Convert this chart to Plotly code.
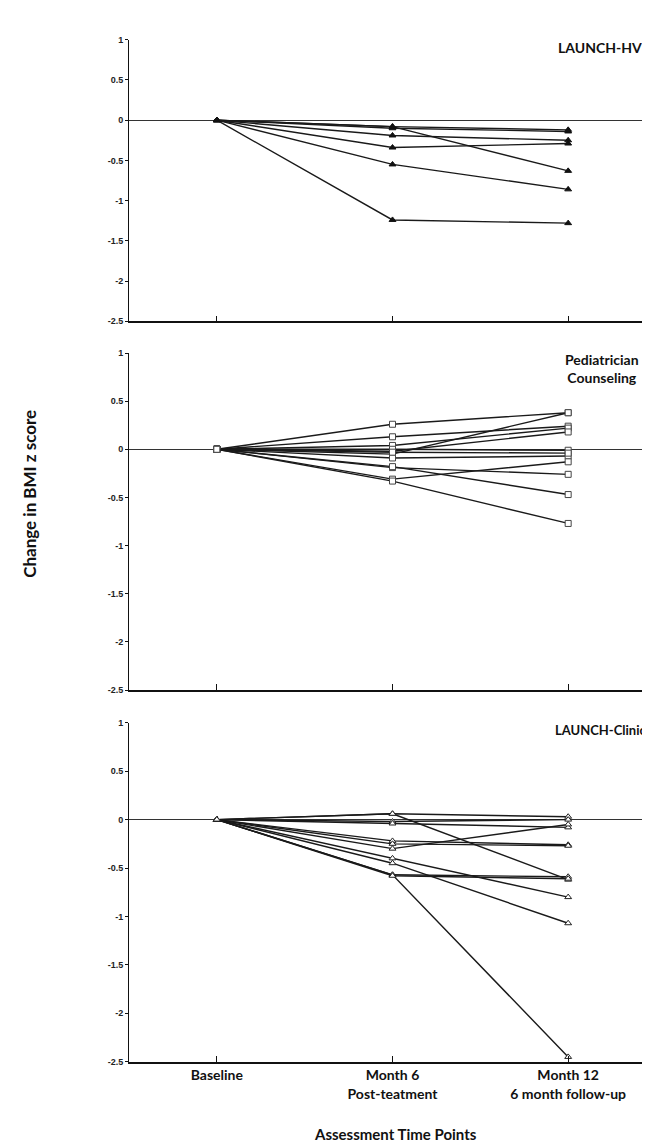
import plotly.graph_objects as go

# ---------------- data ----------------
timepoints = [0, 1, 2]
tick_labels = ["Baseline", "Month 6<br>Post-teatment", "Month 12<br>6 month follow-up"]
ytick_vals = [1, 0.5, 0, -0.5, -1, -1.5, -2, -2.5]
ytick_text = ["1", "0.5", "0", "-0.5", "-1", "-1.5", "-2", "-2.5"]

panel_titles = ["LAUNCH-HV", "Pediatrician<br>Counseling", "LAUNCH-Clinic"]

# change in BMI z score (baseline = 0 for every child)
hv_month6 = [-0.08, -0.10, -0.08, -0.19, -0.34, -0.55, -1.24]
hv_month12 = [-0.12, -0.14, -0.63, -0.25, -0.29, -0.86, -1.28]

pc_month6 = [0.26, 0.13, 0.04, -0.05, -0.02, 0.00, -0.09, -0.03, -0.31, -0.19, -0.18, -0.33]
pc_month12 = [0.38, 0.24, 0.22, 0.38, 0.18, -0.01, -0.07, -0.04, -0.13, -0.26, -0.47, -0.77]

cl_month6 = [0.06, 0.06, -0.02, -0.04, -0.22, -0.25, -0.30, -0.40, -0.45, -0.57, -0.57, -0.58]
cl_month12 = [0.03, -0.62, 0.00, -0.08, -0.26, -0.27, -0.05, -0.80, -1.07, -0.59, -2.45, -0.61]

# ---------------- layout geometry (pixels) ----------------
W, H = 650, 1145
x_left, x_right = 121, 648
panels_px = [(27, 311), (343, 683), (716, 1058)]

def ydom(top, bottom):
    return [1 - bottom / H, 1 - top / H]

fig = go.Figure()

styles = [
    dict(symbol="triangle-up", color="#111111", size=6, line=dict(color="#111111", width=1)),
    dict(symbol="square", color="white", size=6, line=dict(color="#444444", width=1)),
    dict(symbol="triangle-up", color="white", size=6, line=dict(color="#222222", width=1)),
]
datasets = [(hv_month6, hv_month12), (pc_month6, pc_month12), (cl_month6, cl_month12)]

for p, (m6, m12) in enumerate(datasets):
    ax = "" if p == 0 else str(p + 1)
    for a, b in zip(m6, m12):
        fig.add_trace(go.Scatter(
            x=timepoints, y=[0, a, b], mode="lines+markers",
            line=dict(color="#1a1a1a", width=1.4),
            marker=styles[p], showlegend=False, hoverinfo="skip",
            xaxis="x" + ax, yaxis="y" + ax,
        ))

xdom = [x_left / W, x_right / W]
layout = dict(
    width=W, height=H, margin=dict(l=0, r=0, t=0, b=0),
    paper_bgcolor="white", plot_bgcolor="white", showlegend=False,
)
for p, (top, bottom) in enumerate(panels_px):
    ax = "" if p == 0 else str(p + 1)
    layout["xaxis" + ax] = dict(
        domain=xdom, range=[-0.5, 2.5], anchor="y" + ax,
        showgrid=False, zeroline=False, showline=True, linecolor="#111111", linewidth=1.5,
        ticks="inside", ticklen=6, tickcolor="#111111", tickwidth=1,
        tickvals=timepoints, ticktext=tick_labels if p == 2 else ["", "", ""],
        showticklabels=(p == 2),
        tickfont=dict(family="Lato", size=14, color="#111111", weight="bold"),
    )
    layout["yaxis" + ax] = dict(
        domain=ydom(top, bottom), range=[-2.5, 1], anchor="x" + ax,
        showgrid=False, zeroline=True, zerolinecolor="#333333", zerolinewidth=1.3,
        showline=True, linecolor="#111111", linewidth=1,
        ticks="outside", ticklen=3, tickcolor="#111111",
        tickvals=ytick_vals, ticktext=ytick_text,
        tickfont=dict(family="Liberation Sans", size=9, color="#222222", weight="bold"),
    )
fig.update_layout(**layout)

annotations = [
    dict(text=panel_titles[0], x=636 / W, y=1 - 35 / H, xanchor="right", size=14),
    dict(text=panel_titles[1], x=594 / W, y=1 - 359 / H, xanchor="center", size=14),
    dict(text=panel_titles[2], x=640 / W, y=1 - 723 / H, xanchor="right", size=13),
]
for a in annotations:
    size = a.pop("size")
    fig.add_annotation(xref="paper", yref="paper", showarrow=False, yanchor="middle",
                       font=dict(family="Lato", size=size, color="#111111", weight="bold"), **a)

fig.add_annotation(text="Change in BMI z score", xref="paper", yref="paper",
                   x=22 / W, y=1 - 485 / H, textangle=-90, showarrow=False,
                   xanchor="center", yanchor="middle",
                   font=dict(family="Lato", size=17, color="#111111", weight="bold"))
fig.add_annotation(text="Assessment Time Points", xref="paper", yref="paper",
                   x=387 / W, y=1 - 1131 / H, showarrow=False,
                   xanchor="center", yanchor="middle",
                   font=dict(family="Lato", size=15, color="#111111", weight="bold"))

fig.write_html("out.html")
